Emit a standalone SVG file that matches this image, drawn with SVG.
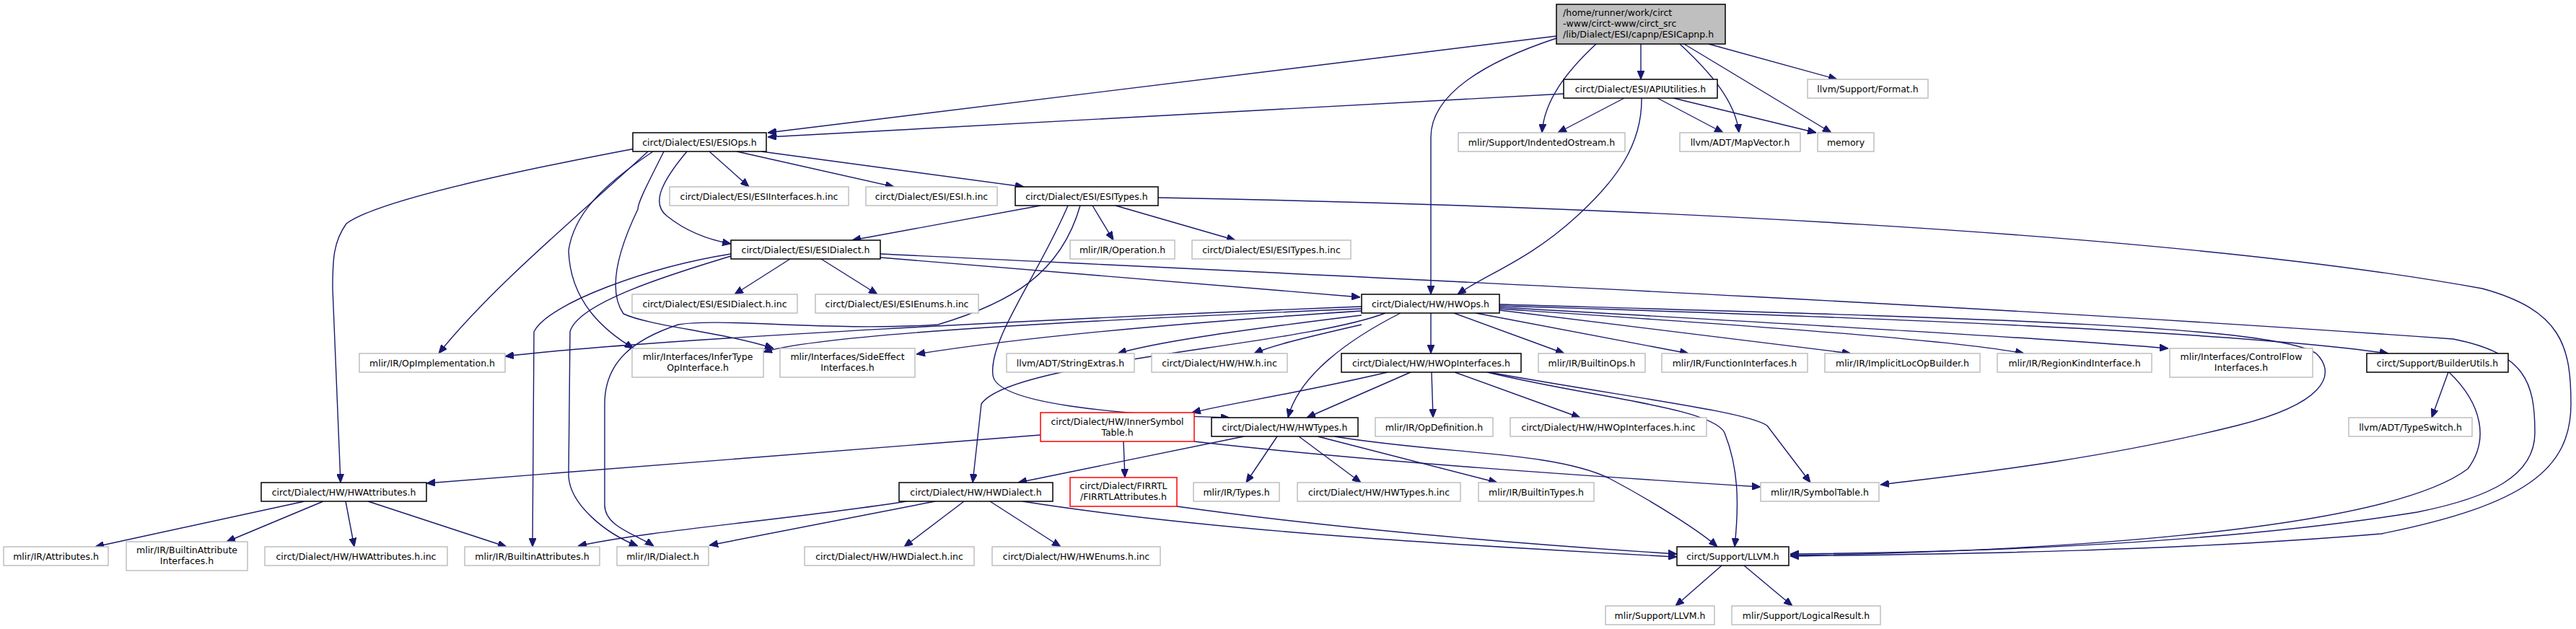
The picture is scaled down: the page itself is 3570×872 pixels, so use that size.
<svg xmlns="http://www.w3.org/2000/svg" width="3570" height="872" viewBox="0 0 3570 872">
<style>
.n rect{fill:#fff;stroke:#bfbfbf;stroke-width:1.5}
.b rect{fill:#fff;stroke:#000;stroke-width:1.5}
.r rect{fill:#fff;stroke:#ff0000;stroke-width:1.5}
.m rect{fill:#bfbfbf;stroke:#000;stroke-width:1.5}
text{font-family:"DejaVu Sans","Liberation Sans",sans-serif;font-size:12.5px;fill:#000;text-anchor:middle}
.m text{text-anchor:start}
#edges path{fill:none;stroke:#191970;stroke-width:1.4;marker-end:url(#a)}
</style>
<defs>
<marker id="a" markerWidth="12" markerHeight="10" refX="12" refY="5" orient="auto" markerUnits="userSpaceOnUse"><path d="M0,0 L12,5 L0,10 z" fill="#191970" stroke="#191970"/></marker>
</defs>
<rect width="3570" height="872" fill="#fff"/>
<g id="edges">
<path d="M2157,50 L1064,184"/>
<path d="M2167,130 L1064,190"/>
<path d="M2274,61 L2274,110"/>
<path d="M2212,61 C2170,100 2140,140 2137,184"/>
<path d="M2251,136 L2159,184"/>
<path d="M2328,61 C2370,100 2405,140 2410,184"/>
<path d="M2334,61 L2538,184"/>
<path d="M2368,61 L2546,110"/>
<path d="M2297,136 L2388,184"/>
<path d="M2319,136 L2517,184"/>
<path d="M2157,53 C2060,85 1983,130 1983,190 L1983,408"/>
<path d="M2275,136 C2276,200 2240,250 2185,300 C2120,360 2060,380 2020,408"/>
<path d="M983,210 L1038,259"/>
<path d="M1021,210 L1239,259"/>
<path d="M1055,210 L1419,259"/>
<path d="M952,210 C910,260 905,285 925,300 C950,320 980,332 1013,338"/>
<path d="M880,206 C700,240 520,280 480,310 C462,335 461,360 461,400 L472,669"/>
<path d="M898,210 C800,300 680,400 608,490"/>
<path d="M905,210 C830,260 795,300 788,347 C790,420 840,460 878,483"/>
<path d="M920,210 C900,250 884,280 884,290 C860,340 840,400 864,435 C900,452 1000,460 1072,483"/>
<path d="M1442,285 L1181,333"/>
<path d="M1514,285 L1543,333"/>
<path d="M1546,285 L1712,333"/>
<path d="M1605,274 C2200,285 3000,320 3440,400 C3550,430 3563,480 3563,560 C3563,650 3500,700 3300,740 C3000,765 2700,768 2481,771"/>
<path d="M1480,285 C1440,380 1370,470 1376,520 C1380,560 1550,575 1704,579"/>
<path d="M1497,285 C1470,380 1400,420 1300,450 C1150,460 1000,440 940,450 C880,470 838,500 838,560 L838,700 C838,730 880,740 906,757"/>
<path d="M1095,359 L1018,408"/>
<path d="M1138,359 L1216,408"/>
<path d="M1220,357 C1500,380 1700,395 1885,412"/>
<path d="M1220,352 C1800,380 2700,420 3400,470 C3500,490 3513,530 3513,600 C3513,660 3450,690 3350,710 C3100,750 2800,765 2481,768"/>
<path d="M1013,352 C900,370 760,420 740,460 L738,758"/>
<path d="M1013,355 C930,380 800,420 790,460 L788,660 C790,700 840,740 884,757"/>
<path d="M1887,425 C1500,440 900,470 700,494"/>
<path d="M1887,428 C1600,440 1150,460 1058,488"/>
<path d="M1887,431 C1600,450 1400,470 1270,491"/>
<path d="M1887,437 C1700,460 1600,475 1549,490"/>
<path d="M1887,450 C1800,470 1760,480 1738,490"/>
<path d="M1983,434 L1983,490"/>
<path d="M2015,434 L2168,490"/>
<path d="M2045,434 L2340,490"/>
<path d="M2078,430 L2565,490"/>
<path d="M2078,428 C2400,450 2700,470 2805,490"/>
<path d="M2078,426 C2500,450 2850,470 3005,483"/>
<path d="M2078,424 C2600,440 3100,460 3310,490"/>
<path d="M2078,422 C2700,440 3150,450 3210,490 C3240,520 3220,560 3100,590 C2900,640 2700,660 2606,672"/>
<path d="M1941,434 C1870,470 1800,520 1785,579"/>
<path d="M1920,434 C1800,480 1400,500 1360,560 L1348,669"/>
<path d="M1923,516 C1800,545 1700,560 1652,572"/>
<path d="M1955,516 L1811,579"/>
<path d="M1984,516 L1986,579"/>
<path d="M2016,516 L2190,579"/>
<path d="M2061,516 C2200,550 2374,565 2390,600 C2410,650 2410,700 2404,758"/>
<path d="M2063,516 C2250,550 2420,570 2449,590 L2509,669"/>
<path d="M3393,516 L3370,579"/>
<path d="M3394,516 C3440,560 3450,610 3420,650 C3300,740 2800,765 2481,770"/>
<path d="M1442,603 L591,670"/>
<path d="M1557,612 L1559,662"/>
<path d="M1655,612 C1900,640 2200,660 2440,675"/>
<path d="M1724,605 L1411,669"/>
<path d="M1770,605 L1727,669"/>
<path d="M1800,605 L1886,669"/>
<path d="M1826,605 L2075,669"/>
<path d="M1849,605 C2000,630 2150,625 2230,663 C2300,700 2360,740 2380,758"/>
<path d="M1296,695 L983,756"/>
<path d="M1256,695 C1100,720 900,735 801,757"/>
<path d="M1336,695 L1253,758"/>
<path d="M1372,695 L1470,758"/>
<path d="M1417,695 C1700,740 2100,760 2324,772"/>
<path d="M1631,702 C1900,740 2200,760 2324,768"/>
<path d="M422,695 L132,758"/>
<path d="M448,695 L314,751"/>
<path d="M479,695 L491,758"/>
<path d="M510,695 L702,758"/>
<path d="M2386,784 L2322,840"/>
<path d="M2417,784 L2484,840"/>
</g>
<g id="main" class="m"><rect x="2157" y="6" width="234" height="55"/><text x="2166" y="21.5">/home/runner/work/circt</text><text x="2166" y="36.5">-www/circt-www/circt_src</text><text x="2166" y="51.5">/lib/Dialect/ESI/capnp/ESICapnp.h</text></g>
<g id="apiutil" class="b"><rect x="2167" y="110" width="213" height="26"/><text x="2273.5" y="127.5">circt/Dialect/ESI/APIUtilities.h</text></g>
<g id="format" class="n"><rect x="2505" y="110" width="167" height="26"/><text x="2588.5" y="127.5">llvm/Support/Format.h</text></g>
<g id="indented" class="n"><rect x="2021" y="184" width="231" height="26"/><text x="2136.5" y="201.5">mlir/Support/IndentedOstream.h</text></g>
<g id="mapvector" class="n"><rect x="2328" y="184" width="167" height="26"/><text x="2411.5" y="201.5">llvm/ADT/MapVector.h</text></g>
<g id="memory" class="n"><rect x="2519" y="184" width="78" height="26"/><text x="2558" y="201.5">memory</text></g>
<g id="esiops" class="b"><rect x="877" y="184" width="185" height="26"/><text x="969.5" y="201.5">circt/Dialect/ESI/ESIOps.h</text></g>
<g id="esiifinc" class="n"><rect x="928" y="259" width="248" height="26"/><text x="1052" y="276.5">circt/Dialect/ESI/ESIInterfaces.h.inc</text></g>
<g id="esihinc" class="n"><rect x="1200" y="259" width="182" height="26"/><text x="1291" y="276.5">circt/Dialect/ESI/ESI.h.inc</text></g>
<g id="esitypes" class="b"><rect x="1407" y="259" width="198" height="26"/><text x="1506" y="276.5">circt/Dialect/ESI/ESITypes.h</text></g>
<g id="esidialect" class="b"><rect x="1013" y="333" width="207" height="26"/><text x="1116.5" y="350.5">circt/Dialect/ESI/ESIDialect.h</text></g>
<g id="operation" class="n"><rect x="1483" y="333" width="145" height="26"/><text x="1555.5" y="350.5">mlir/IR/Operation.h</text></g>
<g id="esitypesinc" class="n"><rect x="1652" y="333" width="220" height="26"/><text x="1762" y="350.5">circt/Dialect/ESI/ESITypes.h.inc</text></g>
<g id="esidialectinc" class="n"><rect x="876" y="408" width="229" height="26"/><text x="990.5" y="425.5">circt/Dialect/ESI/ESIDialect.h.inc</text></g>
<g id="esienumsinc" class="n"><rect x="1130" y="408" width="226" height="26"/><text x="1243" y="425.5">circt/Dialect/ESI/ESIEnums.h.inc</text></g>
<g id="hwops" class="b"><rect x="1887" y="408" width="191" height="26"/><text x="1982.5" y="425.5">circt/Dialect/HW/HWOps.h</text></g>
<g id="opimpl" class="n"><rect x="498" y="490" width="202" height="26"/><text x="599" y="507.5">mlir/IR/OpImplementation.h</text></g>
<g id="infertype" class="n"><rect x="876" y="483" width="182" height="40"/><text x="967" y="498.5">mlir/Interfaces/InferType</text><text x="967" y="513.5">OpInterface.h</text></g>
<g id="sideeffect" class="n"><rect x="1081" y="483" width="187" height="40"/><text x="1174.5" y="498.5">mlir/Interfaces/SideEffect</text><text x="1174.5" y="513.5">Interfaces.h</text></g>
<g id="stringextras" class="n"><rect x="1395" y="490" width="177" height="26"/><text x="1483.5" y="507.5">llvm/ADT/StringExtras.h</text></g>
<g id="hwhinc" class="n"><rect x="1596" y="490" width="188" height="26"/><text x="1690" y="507.5">circt/Dialect/HW/HW.h.inc</text></g>
<g id="hwopif" class="b"><rect x="1859" y="490" width="249" height="26"/><text x="1983.5" y="507.5">circt/Dialect/HW/HWOpInterfaces.h</text></g>
<g id="builtinops" class="n"><rect x="2132" y="490" width="148" height="26"/><text x="2206" y="507.5">mlir/IR/BuiltinOps.h</text></g>
<g id="funcif" class="n"><rect x="2303" y="490" width="202" height="26"/><text x="2404" y="507.5">mlir/IR/FunctionInterfaces.h</text></g>
<g id="implicitloc" class="n"><rect x="2529" y="490" width="215" height="26"/><text x="2636.5" y="507.5">mlir/IR/ImplicitLocOpBuilder.h</text></g>
<g id="regionkind" class="n"><rect x="2768" y="490" width="214" height="26"/><text x="2875" y="507.5">mlir/IR/RegionKindInterface.h</text></g>
<g id="controlflow" class="n"><rect x="3007" y="483" width="198" height="40"/><text x="3106" y="498.5">mlir/Interfaces/ControlFlow</text><text x="3106" y="513.5">Interfaces.h</text></g>
<g id="builderutils" class="b"><rect x="3280" y="490" width="196" height="26"/><text x="3378" y="507.5">circt/Support/BuilderUtils.h</text></g>
<g id="innersym" class="r"><rect x="1442" y="572" width="213" height="40"/><text x="1548.5" y="588.5">circt/Dialect/HW/InnerSymbol</text><text x="1548.5" y="603.5">Table.h</text></g>
<g id="hwtypes" class="b"><rect x="1679" y="579" width="203" height="26"/><text x="1780.5" y="596.5">circt/Dialect/HW/HWTypes.h</text></g>
<g id="opdef" class="n"><rect x="1906" y="579" width="163" height="26"/><text x="1987.5" y="596.5">mlir/IR/OpDefinition.h</text></g>
<g id="hwopifinc" class="n"><rect x="2093" y="579" width="272" height="26"/><text x="2229" y="596.5">circt/Dialect/HW/HWOpInterfaces.h.inc</text></g>
<g id="typeswitch" class="n"><rect x="3255" y="579" width="171" height="26"/><text x="3340.5" y="596.5">llvm/ADT/TypeSwitch.h</text></g>
<g id="hwattr" class="b"><rect x="362" y="669" width="229" height="26"/><text x="476.5" y="686.5">circt/Dialect/HW/HWAttributes.h</text></g>
<g id="hwdialect" class="b"><rect x="1246" y="669" width="213" height="26"/><text x="1352.5" y="686.5">circt/Dialect/HW/HWDialect.h</text></g>
<g id="firrtlattr" class="r"><rect x="1483" y="662" width="148" height="40"/><text x="1557" y="677.5">circt/Dialect/FIRRTL</text><text x="1557" y="692.5">/FIRRTLAttributes.h</text></g>
<g id="types" class="n"><rect x="1654" y="669" width="119" height="26"/><text x="1713.5" y="686.5">mlir/IR/Types.h</text></g>
<g id="hwtypesinc" class="n"><rect x="1798" y="669" width="226" height="26"/><text x="1911" y="686.5">circt/Dialect/HW/HWTypes.h.inc</text></g>
<g id="builtintypes" class="n"><rect x="2049" y="669" width="160" height="26"/><text x="2129" y="686.5">mlir/IR/BuiltinTypes.h</text></g>
<g id="symboltable" class="n"><rect x="2440" y="669" width="164" height="26"/><text x="2522" y="686.5">mlir/IR/SymbolTable.h</text></g>
<g id="attributes" class="n"><rect x="5" y="758" width="145" height="26"/><text x="77.5" y="775.5">mlir/IR/Attributes.h</text></g>
<g id="builtinattrif" class="n"><rect x="175" y="751" width="168" height="40"/><text x="259" y="767">mlir/IR/BuiltinAttribute</text><text x="259" y="782">Interfaces.h</text></g>
<g id="hwattrinc" class="n"><rect x="367" y="758" width="253" height="26"/><text x="493.5" y="775.5">circt/Dialect/HW/HWAttributes.h.inc</text></g>
<g id="builtinattrs" class="n"><rect x="644" y="758" width="187" height="26"/><text x="737.5" y="775.5">mlir/IR/BuiltinAttributes.h</text></g>
<g id="dialect" class="n"><rect x="855" y="758" width="127" height="26"/><text x="918.5" y="775.5">mlir/IR/Dialect.h</text></g>
<g id="hwdialectinc" class="n"><rect x="1115" y="758" width="235" height="26"/><text x="1232.5" y="775.5">circt/Dialect/HW/HWDialect.h.inc</text></g>
<g id="hwenumsinc" class="n"><rect x="1375" y="758" width="233" height="26"/><text x="1491.5" y="775.5">circt/Dialect/HW/HWEnums.h.inc</text></g>
<g id="llvm" class="b"><rect x="2324" y="758" width="155" height="26"/><text x="2401.5" y="775.5">circt/Support/LLVM.h</text></g>
<g id="mlirllvm" class="n"><rect x="2225" y="840" width="151" height="26"/><text x="2300.5" y="857.5">mlir/Support/LLVM.h</text></g>
<g id="logicalresult" class="n"><rect x="2400" y="840" width="206" height="26"/><text x="2503" y="857.5">mlir/Support/LogicalResult.h</text></g>
</svg>
